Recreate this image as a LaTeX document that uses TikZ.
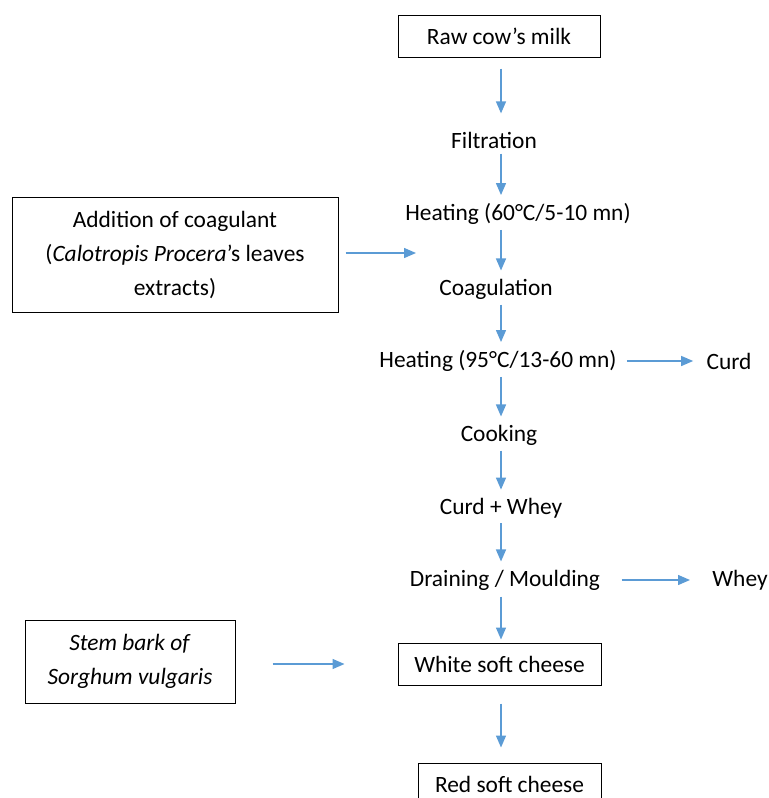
\documentclass[tikz,border=0pt]{standalone}
\usepackage{fontspec}
\setmainfont{Carlito}
\usetikzlibrary{arrows.meta}

\definecolor{flowblue}{HTML}{5B9BD5}

\tikzset{
    stepbox/.style={draw=black, line width=0.5pt, minimum height=21pt, inner sep=2pt},
    steptext/.style={inner sep=2pt},
    flow/.style={flowblue, line width=0.7pt, -{Triangle[length=6pt, width=5pt]}},
}

\begin{document}
\begin{tikzpicture}[x=0.5pt, y=-0.5pt, font=\fontsize{11.7}{17}\selectfont]
    \clip (0,0) rectangle (769,798);
    \coordinate (spine) at (501,0);

    \node[stepbox, minimum width=101pt] (milk) at (499,36) {Raw cow’s milk};
    \node[steptext] (filt) at (494,140) {Filtration};
    \node[steptext] (heatA) at (518,214) {Heating (60°C/5-10 mn)};
    \node[steptext] (coag) at (496,289) {Coagulation};
    \node[steptext] (heatB) at (498,361) {Heating (95°C/13-60 mn)};
    \node[steptext] (curd) at (729,361) {Curd};
    \node[steptext] (cook) at (499,435) {Cooking};
    \node[steptext] (cw) at (501,508) {Curd + Whey};
    \node[steptext] (drain) at (505,580) {Draining / Moulding};
    \node[steptext] (whey) at (740,580) {Whey};
    \node[stepbox, minimum width=101.5pt] (white) at (499.5,664) {White soft cheese};
    \node[stepbox, minimum width=91.5pt] (red) at (509.5,784) {Red soft cheese};

    \node[stepbox, minimum width=163pt, minimum height=57.5pt, align=center] (coagulant) at (175,254.5)
        {Addition of coagulant\\(\textit{Calotropis Procera}’s leaves\\extracts)};
    \node[stepbox, minimum width=105pt, minimum height=41.5pt, align=center] (bark) at (130,661.5)
        {\textit{Stem bark of}\\\textit{Sorghum vulgaris}};

    % main line
    \draw[flow, shorten <=5.5pt, shorten >=7pt] (milk.south -| spine) -- (filt.north -| spine);
    \draw[flow, shorten <=0.5pt, shorten >=2pt] (filt.south -| spine) -- (heatA.north -| spine);
    \draw[flow, shorten <=0.5pt, shorten >=2pt] (heatA.south -| spine) -- (coag.north -| spine);
    \draw[flow, shorten <=0.5pt, shorten >=2pt] (coag.south -| spine) -- (heatB.north -| spine);
    \draw[flow, shorten <=0.5pt, shorten >=2pt] (heatB.south -| spine) -- (cook.north -| spine);
    \draw[flow, shorten <=0.5pt, shorten >=2pt] (cook.south -| spine) -- (cw.north -| spine);
    \draw[flow, shorten <=0.5pt, shorten >=2pt] (cw.south -| spine) -- (drain.north -| spine);
    \draw[flow, shorten <=1pt, shorten >=1.5pt] (drain.south -| spine) -- (white.north -| spine);
    \draw[flow, shorten <=9pt, shorten >=7.5pt] (white.south -| spine) -- (red.north -| spine);

    % side arrows
    \draw[flow, shorten <=3pt, shorten >=4.5pt] (heatB.east) -- (curd.west);
    \draw[flow, shorten <=8.5pt, shorten >=9pt] (drain.east) -- (whey.west);
    \coordinate (coagend) at (416,253);
    \draw[flow, shorten <=3.5pt] (coagulant.east |- coagend) -- (coagend);
    \draw[flow, shorten <=18.5pt, shorten >=26.5pt] (bark.east |- white) -- (white.west);
\end{tikzpicture}
\end{document}
